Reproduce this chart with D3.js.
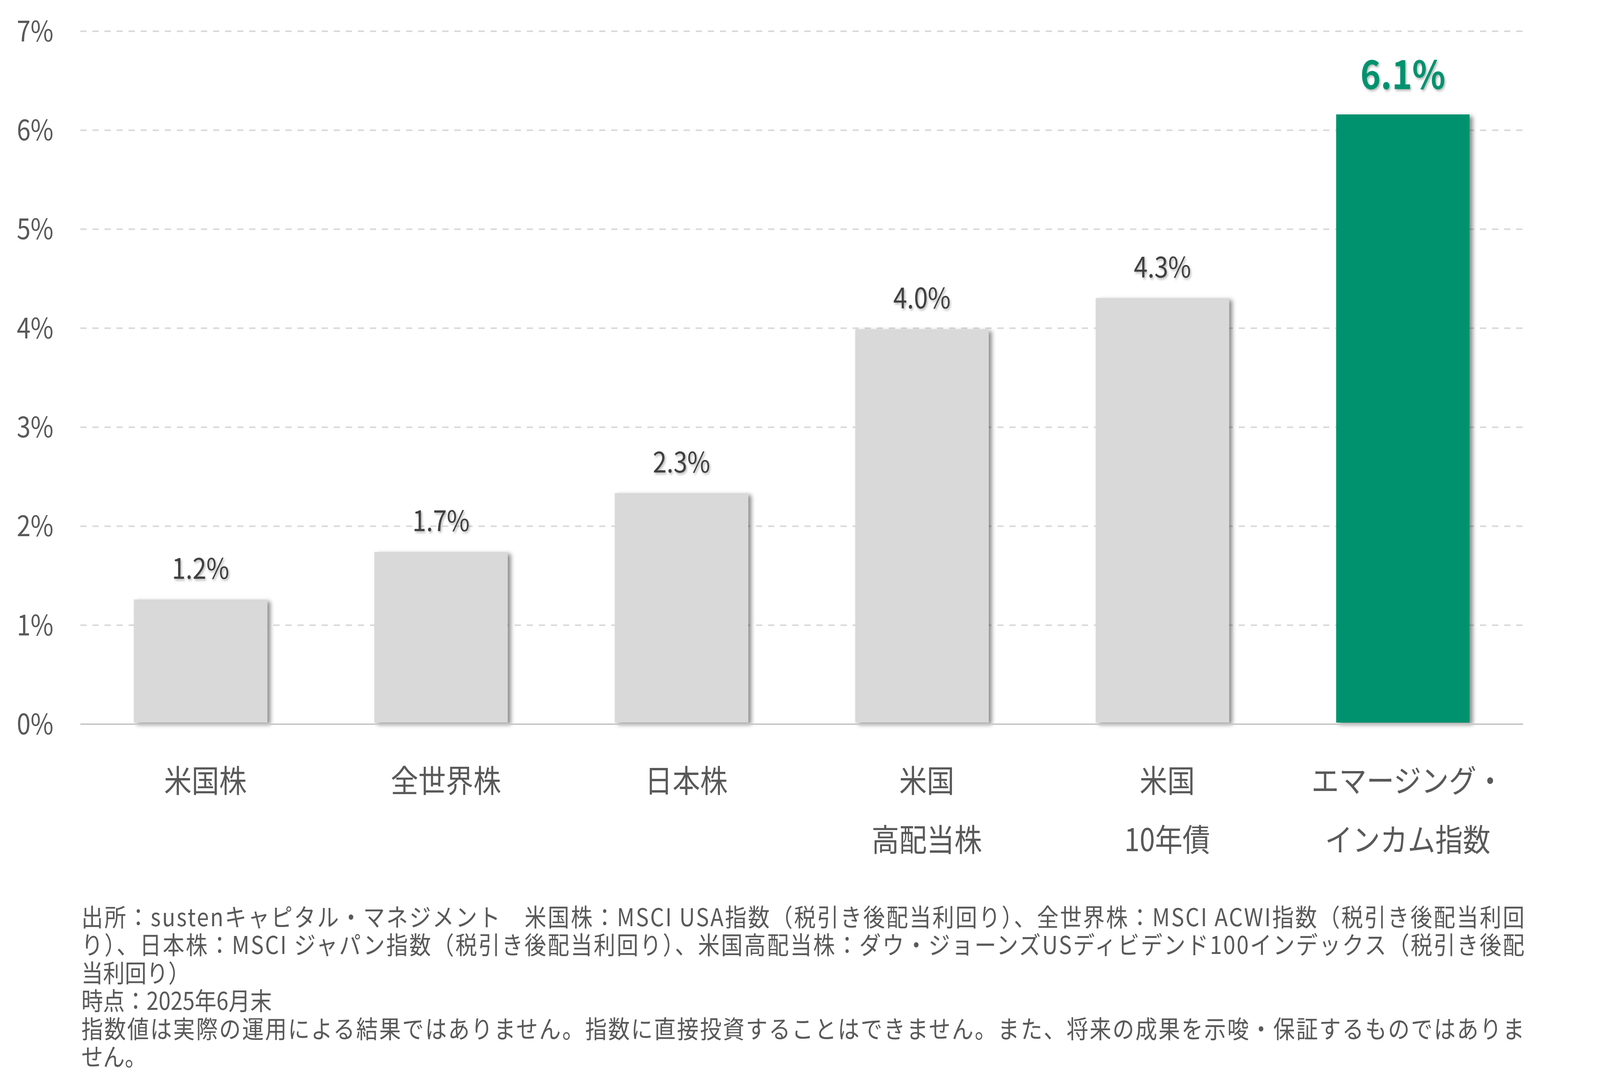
<!DOCTYPE html>
<html lang="ja">
<head>
<meta charset="utf-8">
<script src="https://cdn.jsdelivr.net/npm/d3@7"></script>
<style>
  html, body { margin: 0; padding: 0; background: #fff; overflow: hidden; }
  svg { display: block; width: 100vw; height: 100vh; font-family: "Noto Sans CJK JP", "Noto Sans", sans-serif; }
</style>
</head>
<body>
<div id="chart"></div>
<script>
// chart data
const categories = [
    ["米国株"],
    ["全世界株"],
    ["日本株"],
    ["米国", "高配当株"],
    ["米国", "10年債"],
    ["エマージング・", "インカム指数"]
];
const yields = [1.26, 1.74, 2.335, 3.99, 4.305, 6.16];
const valueLabels = ["1.2%", "1.7%", "2.3%", "4.0%", "4.3%", "6.1%"];
const highlight = [false, false, false, false, false, true];
const yTicks = [0, 1, 2, 3, 4, 5, 6, 7];

const notes = [
    "出所：sustenキャピタル・マネジメント　米国株：MSCI USA指数（税引き後配当利回り）、全世界株：MSCI ACWI指数（税引き後配当利回",
    "り）、日本株：MSCI ジャパン指数（税引き後配当利回り）、米国高配当株：ダウ・ジョーンズUSディビデンド100インデックス（税引き後配",
    "当利回り）",
    "時点：2025年6月末",
    "指数値は実際の運用による結果ではありません。指数に直接投資することはできません。また、将来の成果を示唆・保証するものではありま",
    "せん。"
];
const justified = [true, true, false, false, true, false];

function init() {
    // drawn in the reference's pixel space, stretched to the window by the viewBox
    const width = 4641;
    const height = 2784;
    const left = 233, right = 4418;
    const top = 80, bottom = 1853;

    const svg = d3.select("#chart")
        .append("svg")
        .attr("viewBox", `0 0 ${width} ${height}`)
        .attr("preserveAspectRatio", "none");

    const defs = svg.append("defs");
    defs.append("filter")
        .attr("id", "barShadow")
        .attr("x", "-10%").attr("y", "-10%")
        .attr("width", "130%").attr("height", "130%")
        .append("feDropShadow")
        .attr("dx", 9).attr("dy", 5)
        .attr("stdDeviation", 6)
        .attr("flood-color", "#000")
        .attr("flood-opacity", 0.45);
    defs.append("filter")
        .attr("id", "textShadow")
        .attr("x", "-20%").attr("y", "-30%")
        .attr("width", "150%").attr("height", "170%")
        .append("feDropShadow")
        .attr("dx", 3).attr("dy", 4)
        .attr("stdDeviation", 3)
        .attr("flood-color", "#000")
        .attr("flood-opacity", 0.3);

    // scales
    const x = d3.scaleBand()
        .domain(d3.range(categories.length))
        .range([left, right])
        .paddingInner(0.445)
        .paddingOuter(0.2225);

    const y = d3.scaleLinear()
        .domain([0, 7])
        .range([bottom, top]);

    // gridlines
    svg.append("g")
        .selectAll("line")
        .data(yTicks.filter(d => d > 0))
        .enter()
        .append("line")
        .attr("x1", left)
        .attr("x2", right)
        .attr("y1", d => y(d))
        .attr("y2", d => y(d))
        .attr("stroke", "#d9d9d9")
        .attr("stroke-width", 4)
        .attr("stroke-dasharray", "18,17");

    // y axis labels
    svg.append("g")
        .selectAll("text")
        .data(yTicks)
        .enter()
        .append("text")
        .attr("x", 155)
        .attr("y", d => y(d))
        .attr("dy", "0.36em")
        .attr("text-anchor", "end")
        .attr("font-size", 72)
        .attr("fill", "#595959")
        .text(d => d + "%");

    // bars
    svg.append("g")
        .selectAll("rect")
        .data(yields)
        .enter()
        .append("rect")
        .attr("x", (d, i) => x(i))
        .attr("y", d => y(d))
        .attr("width", x.bandwidth())
        .attr("height", d => bottom - 4 - y(d))
        .attr("fill", (d, i) => highlight[i] ? "#00926e" : "#d9d9d9")
        .attr("filter", "url(#barShadow)");

    // baseline
    svg.append("line")
        .attr("x1", left)
        .attr("x2", right)
        .attr("y1", y(0))
        .attr("y2", y(0))
        .attr("stroke", "#c9c9c9")
        .attr("stroke-width", 4);

    // value labels
    svg.append("g")
        .selectAll("text")
        .data(yields)
        .enter()
        .append("text")
        .attr("x", (d, i) => x(i) + x.bandwidth() / 2)
        .attr("y", (d, i) => y(d) - (highlight[i] ? 65 : 53))
        .attr("text-anchor", "middle")
        .attr("font-size", (d, i) => highlight[i] ? 100 : 72)
        .attr("font-weight", (d, i) => highlight[i] ? 700 : 400)
        .attr("fill", (d, i) => highlight[i] ? "#00926e" : "#404040")
        .attr("filter", "url(#textShadow)")
        .text((d, i) => valueLabels[i]);

    // category labels
    const cat = svg.append("g")
        .selectAll("text")
        .data(categories)
        .enter()
        .append("text")
        .attr("text-anchor", "middle")
        .attr("font-size", 80)
        .attr("fill", "#595959");

    cat.selectAll("tspan")
        .data((d, i) => d.map(t => ({ t, i })))
        .enter()
        .append("tspan")
        .attr("x", d => x(d.i) + x.bandwidth() / 2 + 14)
        .attr("y", (d, j) => 2027 + j * 151)
        .text(d => d.t);

    // footnotes
    svg.append("g")
        .selectAll("text")
        .data(notes)
        .enter()
        .append("text")
        .attr("x", 236)
        .attr("y", (d, i) => 2370 + i * 71.5)
        .attr("font-size", 63)
        .attr("fill", "#595959")
        .each(function (d, i) {
            if (justified[i]) {
                d3.select(this)
                    .attr("textLength", right + 4 - 236)
                    .attr("lengthAdjust", "spacing");
            }
        })
        .text(d => d);
}

window.onload = init;
</script>
</body>
</html>
